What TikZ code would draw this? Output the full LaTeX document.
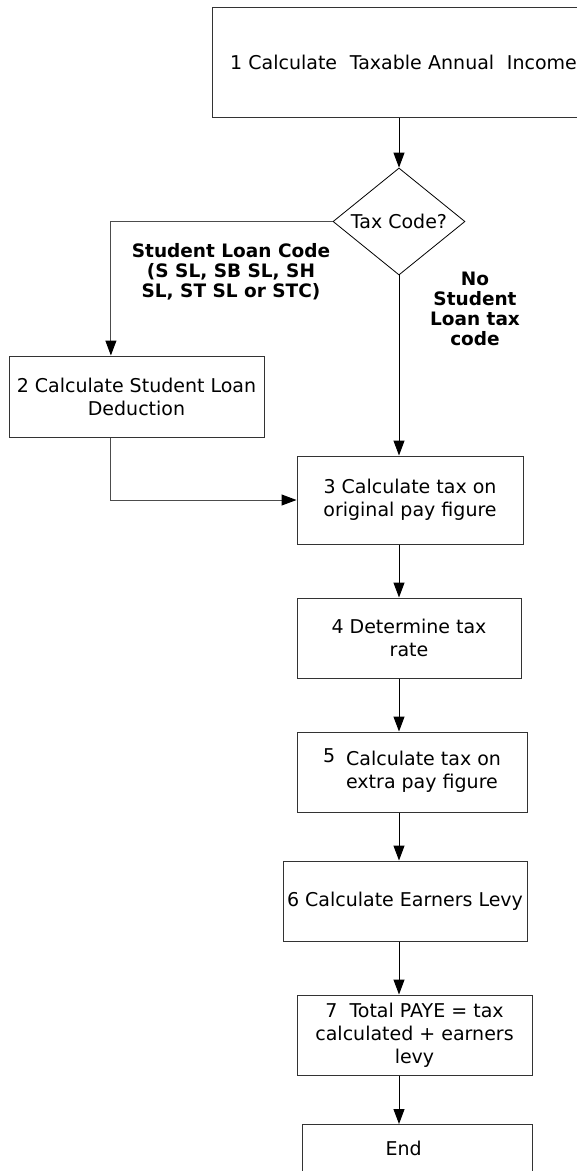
\documentclass[tikz,border=0pt]{standalone}
\usepackage{fontspec}
\setmainfont{DejaVu Sans}
\usetikzlibrary{shapes.geometric,arrows.meta,calc}

\newcommand\stepfont{\fontsize{19pt}{23pt}\selectfont}
\newcommand\branchfont{\fontsize{18.5pt}{20pt}\selectfont\bfseries}

\begin{document}
\begin{tikzpicture}[x=1pt,y=-1pt,
  stepbox/.style={draw=black!80, line width=1pt, rectangle, inner sep=0pt,
    align=center, font=\stepfont},
  decision/.style={draw=black, line width=0.8pt, diamond, aspect=1.23,
    inner sep=0pt, font=\stepfont},
  flow/.style={draw=black, line width=1pt, -{Triangle[length=15pt,width=11pt,color=black]}},
  branch/.style={align=center, font=\branchfont, inner sep=0pt}]

\useasboundingbox (0,0) rectangle (577,1171);

% process steps
\node[stepbox, minimum height=110pt, text width=372pt, inner xsep=18pt, align=left]
  (b1) at (416,62) {1 Calculate\ \ Taxable Annual\ \ Income};
\node[decision, minimum width=132pt, minimum height=107pt] (d) at (399,221.5) {Tax Code?};
\node[stepbox, minimum width=255pt, minimum height=81pt] (b2) at (136.5,396.5)
  {2 Calculate Student Loan\\Deduction};
\node[stepbox, minimum width=226pt, minimum height=88pt] (b3) at (410,500)
  {3 Calculate tax on\\original pay figure};
\node[stepbox, minimum width=224pt, minimum height=80pt] (b4) at (409,638)
  {4 Determine tax\\rate};
\node[stepbox, minimum width=230pt, minimum height=80pt] (b5) at (412,772)
  {\begin{tabular}{@{}l@{\hspace{11pt}}l@{}}\raisebox{3pt}{5} & Calculate tax on\\ & extra pay figure\end{tabular}};
\node[stepbox, minimum width=244pt, minimum height=80pt] (b6) at (405,901)
  {6 Calculate Earners Levy};
\node[stepbox, minimum width=235pt, minimum height=80pt] (b7) at (414.5,1035)
  {7\ \ Total PAYE = tax\\calculated + earners\\levy};
\node[stepbox, anchor=north, text height=31pt, text depth=45pt, inner xsep=83.5pt,
  text width=63pt, align=left] (e) at (417,1124) {End};

% branch labels
\node[branch] (la) at (231,271.5) {Student Loan Code\\(S SL, SB SL, SH\\SL, ST SL or STC)};
\node[branch] (lb) at (475,309) {No\\Student\\Loan tax\\code};

% connectors
\coordinate (b2in) at ($(b2.north west)!0.4!(b2.north east)$);
\coordinate (b2out) at ($(b2.south west)!0.4!(b2.south east)$);
\draw[flow] (b1.south -| d.north) -- (d.north);
\draw[flow, draw=black!70] (d.west) -| (b2in);
\draw[flow, draw=black!70] (b2out) |- (b3.west);
\draw[flow] (d.south) -- (d.south |- b3.north);
\draw[flow] (d.south |- b3.south) -- (d.south |- b4.north);
\draw[flow] (d.south |- b4.south) -- (d.south |- b5.north);
\draw[flow] (d.south |- b5.south) -- (d.south |- b6.north);
\draw[flow] (d.south |- b6.south) -- (d.south |- b7.north);
\draw[flow] (d.south |- b7.south) -- (d.south |- e.north);
\end{tikzpicture}
\end{document}
